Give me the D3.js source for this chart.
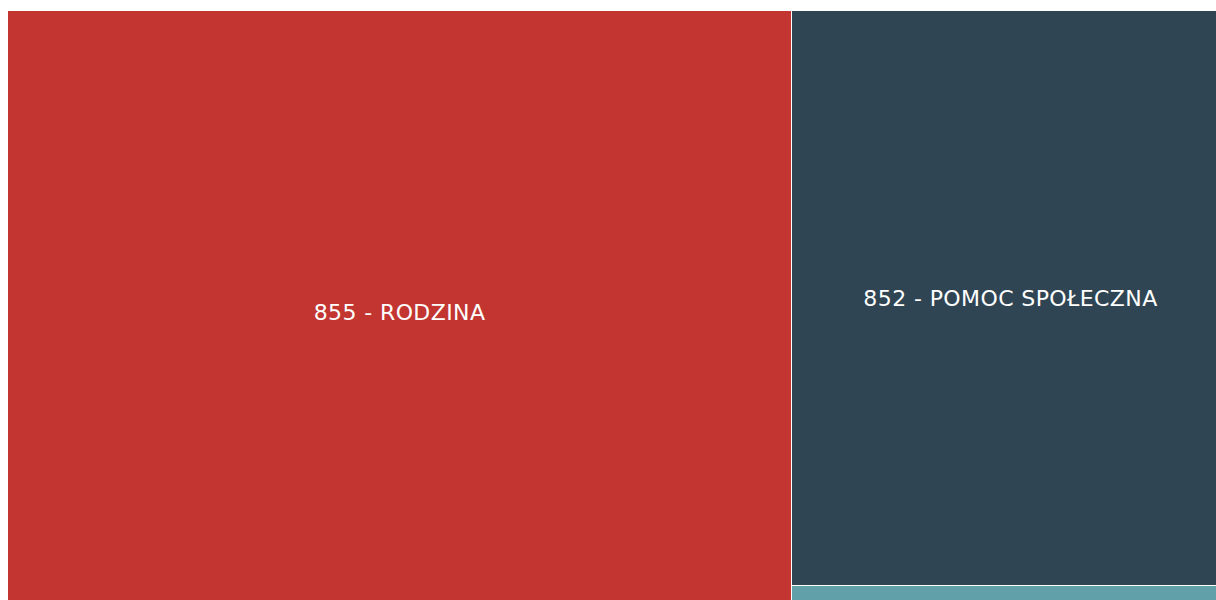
<!DOCTYPE html>
<html>
<head>
<meta charset="utf-8">
<script src="https://cdn.jsdelivr.net/npm/d3@7/dist/d3.min.js"></script>
<style>
  html, body { margin: 0; padding: 0; background: #fff; overflow: hidden; }
  svg { display: block; }
</style>
</head>
<body>
<svg id="chart" width="1216" height="600"></svg>
<script>
// Data (values estimated from the picture's areas)
const categories = ["855 - RODZINA", "852 - POMOC SPOŁECZNA", "853 - POZOSTAŁE ZADANIA W ZAKRESIE POLITYKI SPOŁECZNEJ"];
const values = [47137, 25084, 1224];
const colors = ["#c23531", "#2f4554", "#61a0a8"];

const W = 1216, H = 600;
const svg = d3.select("#chart");
const tmX = 8, tmY = 11, tmW = 1221, tmH = 602;

const root = d3.hierarchy({children: categories.map((c, i) => ({name: c, value: values[i], color: colors[i]}))})
  .sum(d => d.value || 0)
  .sort((a, b) => b.value - a.value);

d3.treemap()
  .tile(d3.treemapSquarify)
  .size([tmW, tmH])
  .paddingInner(1)
  .round(true)(root);

const g = svg.append("g").attr("transform", `translate(${tmX},${tmY})`);
const node = g.selectAll("g.node").data(root.leaves()).join("g").attr("class", "node");

node.append("rect")
  .attr("x", d => d.x0)
  .attr("y", d => d.y0)
  .attr("width", d => d.x1 - d.x0)
  .attr("height", d => d.y1 - d.y0)
  .attr("fill", d => d.data.color);

node.filter(d => (d.y1 - d.y0) > 40)
  .append("text")
  .attr("x", d => (d.x0 + d.x1) / 2)
  .attr("y", d => (d.y0 + d.y1) / 2)
  .attr("text-anchor", "middle")
  .attr("dominant-baseline", "central")
  .attr("fill", "#fff")
  .attr("font-family", "'DejaVu Sans', sans-serif")
  .attr("font-size", 22)
  .attr("letter-spacing", 0.4)
  .text(d => d.data.name);
</script>
</body>
</html>
